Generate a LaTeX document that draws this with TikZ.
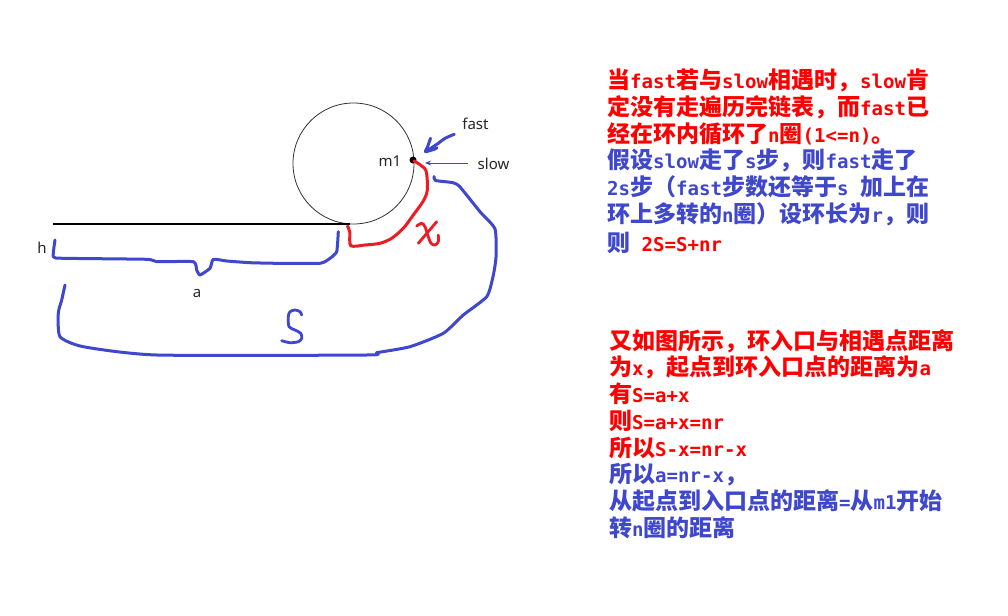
\documentclass[tikz,border=0pt]{standalone}
\usepackage{fontspec}
\setmainfont{Noto Sans CJK SC}
\newfontfamily\lblfont{Noto Sans}
\newfontfamily\monof{DejaVu Sans Mono}[Scale=0.83]
\newcommand{\mm}[1]{{\monof\bfseries #1}}
\usetikzlibrary{arrows.meta}
\definecolor{pblue}{HTML}{3F48CC}
\definecolor{pred}{HTML}{ED1C24}
\definecolor{tred}{HTML}{FF0000}
\tikzset{
  redtxt/.style={anchor=base west,inner sep=0pt,text=tred,font=\fontsize{23}{27}\selectfont\bfseries},
  bluetxt/.style={anchor=base west,inner sep=0pt,text=pblue,font=\fontsize{23}{27}\selectfont\bfseries},
  lbl/.style={inner sep=0pt,font=\lblfont\fontsize{15}{18}\selectfont,text=black!85},
  bluepen/.style={draw=pblue,line width=3pt,line cap=round,line join=round},
  redpen/.style={draw=pred,line width=3pt,line cap=round,line join=round},
}
\begin{document}
\begin{tikzpicture}[x=1pt,y=-1pt]
\useasboundingbox[fill=white] (0,0) rectangle (1008,615);

% ring and tail
\node[circle,draw=black!80,line width=0.8pt,minimum size=121pt,inner sep=0pt] (ring) at (353.5,163.5) {};
\coordinate (tailstart) at (53,224);
\coordinate (tailend) at (350,224);
\draw[black,line width=2pt] (tailstart) -- (tailend);

% m1 point
\node[circle,fill=black,minimum size=7pt,inner sep=0pt] (m1dot) at (413,160) {};
\node[lbl] (m1) at (390,161) {m1};
\node[lbl] (fast) at (475.5,124) {fast};
\node[lbl] (slow) at (493.5,164) {slow};
\node[lbl] (h) at (42,248) {h};
\node[lbl] (a) at (197,293) {a};

% thin slow arrow
\coordinate (slowtail) at (468,163);
\coordinate (slowtip) at (425,163);
\draw[pblue,line width=0.9pt,-{Stealth[length=6pt,width=5pt]}] (slowtail) -- (slowtip);

% hand-drawn fast arrow
\draw[bluepen] plot[smooth,tension=0.5] coordinates {(454.3,134.3) (445,138.3) (438.3,143.3) (428.3,150)};
\draw[bluepen] plot[smooth,tension=0.3] coordinates {(430.5,138.3) (427.5,147) (425.5,151.7) (435,149) (437,147.7)};

% red x path
\draw[redpen] plot[smooth,tension=0.45] coordinates {(414,161) (425.7,170) (427.3,190) (423.3,201) (413.3,215) (403.3,228.3) (391.7,238.3) (380,243.3) (365,245) (350.7,245.7) (349.8,232) (347.5,226)};
% red hand-written x
\draw[redpen,line width=2.8pt] plot[smooth,tension=0.5] coordinates {(416.7,226) (421.7,223.3) (425,226.7) (428.3,236.7) (431,243.3) (435,245) (438.3,241.7) (438.3,235)};
\draw[redpen,line width=2.8pt] (436.7,221.7) -- (418.3,243.3);

% blue a bracket
\draw[bluepen] plot[smooth,tension=0.3] coordinates {(55,240) (53.3,256.7) (63.3,258.3) (146.7,259.3) (156.7,261.7) (193.3,261.7) (196.7,270) (200,275) (210,268.3) (213.3,259.3) (226.7,261) (250,262.7) (276.7,263.3) (320,263.3) (330,258.3) (336.7,251.7) (338.3,231.7)};

% blue S bracket
\draw[bluepen] plot[smooth,tension=0.35] coordinates {(434,176.5) (435.5,180.5) (453,182.7) (460,187) (480,211.7) (495,229) (496,257) (493,276.7) (486.7,296.7) (463.3,315) (443.3,333.3) (410,346.7) (376.7,352.7) (366.7,355) (156.7,355) (83.3,346.7) (60,336.7) (58.3,313) (61.7,300) (65,285)};

% hand-written S
\draw[bluepen,line width=2.8pt] plot[smooth,tension=0.5] coordinates {(301.7,315) (300,311.7) (295,310) (290,311.7) (288.3,316.7) (289,326.7) (295,330) (300.7,333.3) (301.7,338.3) (298.3,341.7) (290,342.7) (281.7,340.7)};

% text block 1
\node[redtxt] (t1) at (607,88.7) {当\mm{fast}若与\mm{slow}相遇时，\mm{slow}肯};
\node[redtxt] (t2) at (607,115.4) {定没有走遍历完链表，而\mm{fast}已};
\node[redtxt] (t3) at (607,142) {经在环内循环了\mm{n}圈\mm{(1<=n)}。};
\node[bluetxt] (t4) at (607,168.7) {假设\mm{slow}走了\mm{s}步，则\mm{fast}走了};
\node[bluetxt] (t5) at (607,195.7) {\mm{2s}步（\mm{fast}步数还等于\mm{s\ }加上在};
\node[bluetxt] (t6) at (607,222.7) {环上多转的\mm{n}圈）设环长为\mm{r}，则};
\node[bluetxt] (t7) at (607,251.2) {则\mm{\ }\textcolor{tred}{\mm{2S=S+nr}}};

% text block 2
\node[redtxt] (u1) at (609,349.7) {又如图所示，环入口与相遇点距离};
\node[redtxt] (u2) at (609,375.7) {为\mm{x}，起点到环入口点的距离为\mm{a}};
\node[redtxt] (u3) at (609,402.7) {有\mm{S=a+x}};
\node[redtxt] (u4) at (609,429.7) {则\mm{S=a+x=nr}};
\node[redtxt] (u5) at (609,456.2) {所以\mm{S-x=nr-x}};
\node[bluetxt] (u6) at (609,482.7) {所以\mm{a=nr-x}，};
\node[bluetxt] (u7) at (609,509.7) {从起点到入口点的距离\mm{=}从\mm{m1}开始};
\node[bluetxt] (u8) at (609,536.2) {转\mm{n}圈的距离};
\end{tikzpicture}
\end{document}
